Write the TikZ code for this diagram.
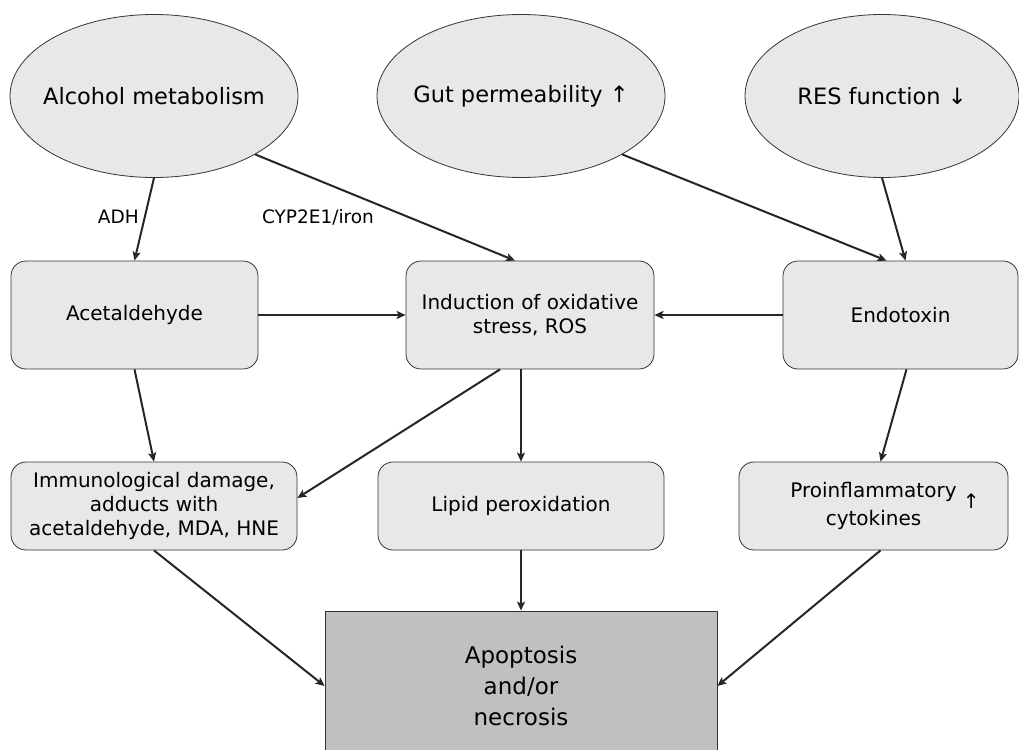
\documentclass[tikz,border=0pt]{standalone}
\usepackage{fontspec}
\setmainfont{DejaVu Sans}
\usetikzlibrary{shapes.geometric, arrows.meta}
\definecolor{boxgray}{HTML}{E8E8E8}
\definecolor{endgray}{HTML}{C0C0C0}
\definecolor{edgegray}{HTML}{333333}
\begin{document}
\begin{tikzpicture}[>={Stealth[length=9pt, width=8pt, inset=2pt]}, x=1pt, y=-1pt,
    cause/.style={ellipse, draw=edgegray, fill=boxgray, line width=0.8pt, inner xsep=-40pt,
        minimum width=288pt, minimum height=163pt, font=\fontsize{22.5}{26}\selectfont},
    stage/.style={rectangle, rounded corners=15pt, draw=edgegray, fill=boxgray, line width=0.8pt,
        align=center, inner sep=2pt, font=\fontsize{20}{24}\selectfont},
    outcome/.style={rectangle, draw=edgegray, fill=endgray, line width=0.8pt,
        align=center, font=\fontsize{23}{31}\selectfont},
    enzyme/.style={font=\fontsize{18.5}{22}\selectfont, inner sep=0pt},
    link/.style={->, line width=2pt, black!85}]
    \useasboundingbox (0, 0) rectangle (1019, 749);
    \node[cause] (alc) at (154, 96) {Alcohol metabolism};
    \node[cause] (gut) at (521, 96) {Gut permeability ↑};
    \node[cause, minimum width=274pt] (res) at (882, 96) {RES function ↓};
    \node[stage, minimum width=247pt, minimum height=108pt] (acet) at (134.5, 315) {Acetaldehyde};
    \node[stage, minimum width=248pt, minimum height=108pt] (ind) at (530, 315) {Induction of oxidative\\stress, ROS};
    \node[stage, minimum width=235pt, minimum height=108pt] (endo) at (900.5, 315) {Endotoxin};
    \node[stage, minimum width=286pt, minimum height=88pt] (immu) at (154, 506) {Immunological damage,\\adducts with\\acetaldehyde, MDA, HNE};
    \node[stage, minimum width=286pt, minimum height=88pt] (lipid) at (521, 506) {Lipid peroxidation};
    \node[stage, minimum width=269pt, minimum height=88pt] (pro) at (873.5, 506) {Proinflammatory\rlap{\raisebox{-0.55em}{ ↑}}\\cytokines};
    \node[outcome, minimum width=392pt, minimum height=150pt] (apo) at (521, 686) {Apoptosis\\and/or\\necrosis};
    \node[enzyme, anchor=east] (adh) at (139, 217) {ADH};
    \node[enzyme] (cyp) at (318, 217) {CYP2E1/iron};
    \draw[link] (alc.south) -- (acet.north);
    \draw[link] (alc.-30) -- ([xshift=-15pt]ind.north);
    \draw[link] (gut.-30) -- ([xshift=-14pt]endo.north);
    \draw[link] (res.south) -- ([xshift=5pt]endo.north);
    \draw[link] (acet.east) -- (ind.west);
    \draw[link] (endo.west) -- (ind.east);
    \draw[link] (acet.south) -- (immu.north);
    \draw[link] ([xshift=-30pt]ind.south) -- ([yshift=8pt]immu.east);
    \draw[link] (ind.south -| lipid.north) -- (lipid.north);
    \draw[link] ([xshift=6pt]endo.south) -- ([xshift=7pt]pro.north);
    \draw[link] (immu.south) -- (apo.west);
    \draw[link] (lipid.south) -- (apo.north);
    \draw[link] ([xshift=7pt]pro.south) -- (apo.east);
\end{tikzpicture}
\end{document}
